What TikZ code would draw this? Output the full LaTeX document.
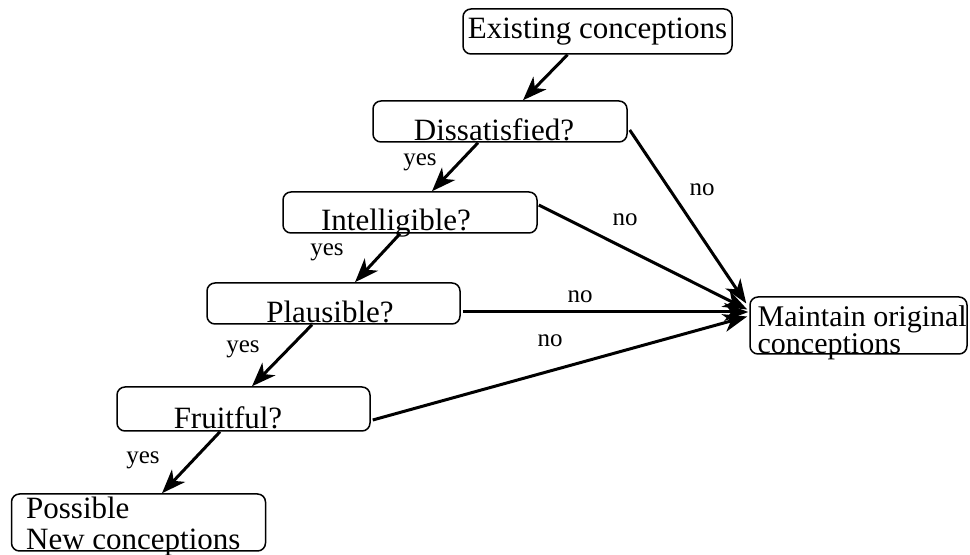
\documentclass[tikz,border=0pt]{standalone}
\usepackage{fontspec}
\setmainfont{Liberation Serif}
\usetikzlibrary{positioning,calc,arrows.meta}

\tikzset{
  box/.style={draw, line width=0.75pt, rounded corners=4pt, inner sep=0pt},
  boxtext/.style={font=\fontsize{15.5}{15.5}\selectfont, inner sep=0pt, anchor=base},
  lbl/.style={font=\fontsize{12.5}{12.5}\selectfont, inner sep=0pt},
  arr/.style={-{Stealth[length=12pt,width=9pt,inset=3.5pt]}, line width=1.5pt},
}

\begin{document}
\begin{tikzpicture}[x=0.5pt,y=-0.5pt]
    \useasboundingbox (0,0) rectangle (970,555);

    % Boxes
    \node[box, minimum width=134.5pt, minimum height=22.5pt, font=\fontsize{15.5}{15.5}\selectfont] (exist) at (597.5,31.5) {Existing conceptions};
    \node[box, minimum width=127pt, minimum height=20.5pt] (dis) at (500,121.5) {};
    \node[box, minimum width=127pt, minimum height=20.5pt] (intel) at (410,212.5) {};
    \node[box, minimum width=126.5pt, minimum height=20.5pt] (plaus) at (333.5,303.5) {};
    \node[box, minimum width=126.5pt, minimum height=22pt] (fruit) at (243.5,409) {};
    \node[box, minimum width=127pt, minimum height=28.5pt] (poss) at (138.5,522.5) {};
    \node[box, minimum width=108.5pt, minimum height=28.5pt] (main) at (858.5,325.5) {};

    % Box texts
    \node[boxtext] (dist) at ($(dis.south)+(-6,-2)$) {Dissatisfied?};
    \node[boxtext] (intelt) at ($(intel.south)+(-14,-3)$) {Intelligible?};
    \node[boxtext] (plaust) at ($(plaus.south)+(-3.5,-2)$) {Plausible?};
    \node[boxtext] (fruitt) at ($(fruit.south)+(-15.5,-3)$) {Fruitful?};
    \node[boxtext, anchor=base west] (posst) at ($(poss.south west)+(15,-33)$) {Possible};
    \node[boxtext, anchor=base west] (newt) at ($(poss.south west)+(15,-2)$) {New conceptions};
    \node[boxtext, anchor=base west, font=\fontsize{15}{15}\selectfont] (maint) at ($(main.south west)+(8,-28)$) {Maintain original};
    \node[boxtext, anchor=base west, font=\fontsize{15}{15}\selectfont] (origt) at ($(main.south west)+(8,-1)$) {conceptions};

    % yes branch
    \draw[arr] ($(exist.south)+(-30,0)$) -- ($(dis.north)+(23,0)$);
    \draw[arr] ($(dis.south)+(-22,0)$) -- ($(intel.north)+(22,0)$);
    \draw[arr] ($(intel.south)+(-10,0)$) -- ($(plaus.north)+(21.5,0)$);
    \draw[arr] ($(plaus.south)+(-21.5,0)$) -- ($(fruit.north)+(8.5,0)$);
    \draw[arr] ($(fruit.south)+(-23.5,0)$) -- ($(poss.north)+(23.5,0)$);

    % no branch
    \draw[arr] ($(dis.east)+(2,8.5)$) -- ($(main.west)+(-3,-22)$);
    \draw[arr] ($(intel.east)+(1,-7.5)$) -- ($(main.west)+(-2,-16)$);
    \draw[arr] ($(plaus.east)+(2,8.5)$) -- ($(main.west)+(-1,-13.5)$);
    \draw[arr] ($(fruit.east)+(2,11)$) -- ($(main.west)+(-2,-9)$);

    % Labels
    \node[lbl] (yes1) at (420,162) {yes};
    \node[lbl] (yes2) at (327,252) {yes};
    \node[lbl] (yes3) at (243,349) {yes};
    \node[lbl] (yes4) at (143,460) {yes};
    \node[lbl] (no1) at (702,190) {no};
    \node[lbl] (no2) at (625,220) {no};
    \node[lbl] (no3) at (580,297) {no};
    \node[lbl] (no4) at (550,341) {no};
\end{tikzpicture}
\end{document}
